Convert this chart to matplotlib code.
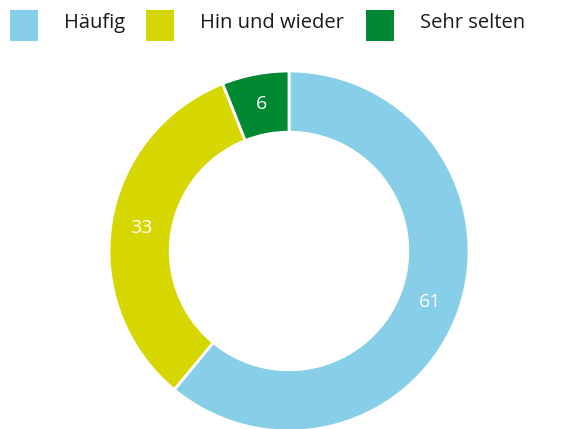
import matplotlib.pyplot as plt
from matplotlib.patches import Rectangle

kategorien = ['Häufig', 'Hin und wieder', 'Sehr selten']
werte = [61, 33, 6]
farben = ['#87CEE8', '#D6D600', '#008833']

plt.rcParams['font.family'] = ['Open Sans', 'DejaVu Sans']

W, H = 569, 429
fig = plt.figure(figsize=(W / 100, H / 100), dpi=100)

# Achse so gelegt, dass Mittelpunkt bei (289, 251) px liegt, Radius 180 px
r_px = 180.0
cx, cy = 289, H - 251
ax = fig.add_axes([0, 0, 1, 1])
ax.axis('off')

wedges, texts = ax.pie(werte, colors=farben, startangle=90, counterclock=False,
                       radius=1.0, labels=[str(w) for w in werte],
                       labeldistance=0.83,
                       wedgeprops=dict(width=0.34, edgecolor='white', linewidth=2),
                       textprops=dict(color='white', fontsize=14))
for t in texts:
    t.set_ha('center')
    t.set_va('center')
ax.set_aspect('auto')
ax.set_xlim(-cx / r_px, (W - cx) / r_px)
ax.set_ylim(-cy / r_px, (H - cy) / r_px)

# Legende oben
leg_x = [10, 146, 366]
text_x = [64, 200, 420]
for i in range(3):
    rect = Rectangle((leg_x[i] / W, 1 - 41 / H), 28 / W, 31 / H,
                     transform=fig.transFigure, facecolor=farben[i], edgecolor='none')
    fig.add_artist(rect)
    fig.text(text_x[i] / W, 1 - 23 / H, kategorien[i], fontsize=14.5,
             va='center', ha='left', color='#1a1a1a')

fig.savefig('out.png', dpi=100)
